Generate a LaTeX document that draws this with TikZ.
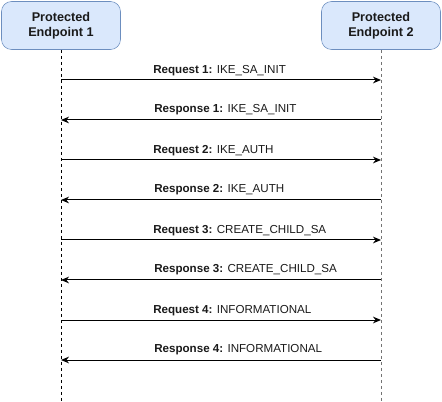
\documentclass[tikz,border=0pt]{standalone}
\usepackage{fontspec}
\setmainfont{Liberation Sans}
\usetikzlibrary{arrows.meta}
\definecolor{boxfill}{HTML}{DAE8FC}
\definecolor{boxline}{HTML}{6C8EBF}
\definecolor{txt}{HTML}{1A1A1A}
\begin{document}
\begin{tikzpicture}[x=0.75pt,y=-0.75pt,
  actor/.style={draw=boxline,fill=boxfill,rounded corners=7.5pt,minimum width=119*0.75pt,minimum height=48*0.75pt,align=center,font=\fontsize{9.5}{11}\selectfont\bfseries,text=txt,inner sep=0pt},
  lifeA/.style={draw=black,dash pattern=on 2.25pt off 2.25pt,line width=0.75pt},
  lifeB/.style={draw=black!55,dash pattern=on 2.25pt off 2.25pt,line width=0.75pt},
  msg/.style={draw=black,line width=0.75pt,-{Stealth[length=6pt,width=5pt]}},
  lbl/.style={anchor=west,font=\fontsize{8.7}{9.5}\selectfont,text=txt,inner sep=0pt}]
\useasboundingbox (0,0) rectangle (442,402);
\node[actor] (e1) at (61,25.5) {Protected\\Endpoint 1};
\node[actor] (e2) at (381,25.5) {Protected\\Endpoint 2};
\coordinate (b1) at (61,401);
\coordinate (b2) at (381,401);
\draw[lifeA] (e1.south) -- (b1);
\draw[lifeB] (e2.south) -- (b2);
\foreach \i/\name in {1/IKE\_SA\_INIT,2/IKE\_AUTH,3/CREATE\_CHILD\_SA,4/INFORMATIONAL}{
  \pgfmathsetmacro{\yq}{80+(\i-1)*80}
  \pgfmathsetmacro{\yr}{120+(\i-1)*80}
  \coordinate (qa\i) at (61,\yq);
  \coordinate (qb\i) at (381,\yq);
  \coordinate (ra\i) at (381,\yr);
  \coordinate (rb\i) at (61,\yr);
  \draw[msg] (qa\i) -- (qb\i);
  \draw[msg] (ra\i) -- (rb\i);
  \node[lbl] (lq\i) at (153,\yq-9) {\textbf{Request \i:} \name};
  \node[lbl] (lr\i) at (154,\yr-10.5) {\textbf{Response \i:} \name};
}
\end{tikzpicture}
\end{document}
